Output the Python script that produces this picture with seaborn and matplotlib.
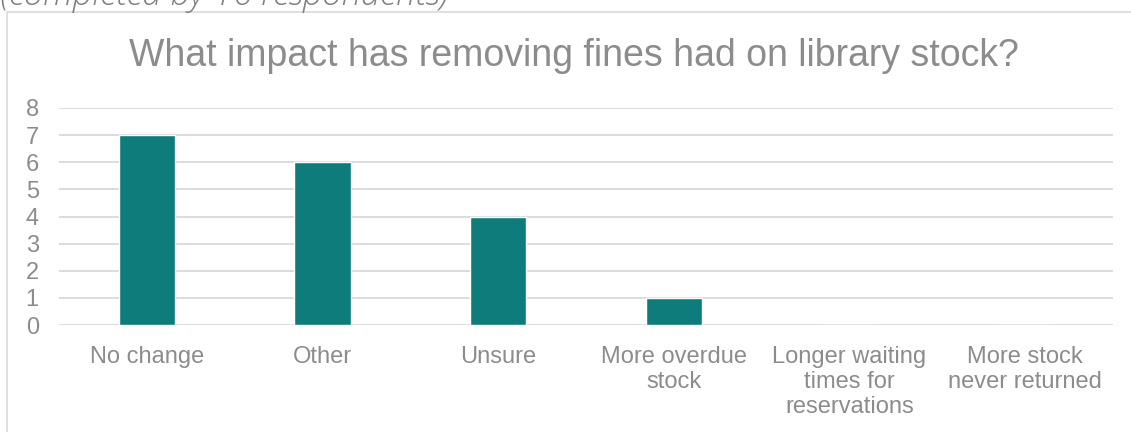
import matplotlib
matplotlib.use("Agg")
import matplotlib.pyplot as plt
import seaborn as sns
import pandas as pd
from matplotlib.patches import Rectangle

categories = ["No change", "Other", "Unsure", "More overdue\nstock",
              "Longer waiting\ntimes for\nreservations", "More stock\nnever returned"]
values = [7, 6, 4, 1, 0, 0]
yticks = [0, 1, 2, 3, 4, 5, 6, 7, 8]

sns.set_theme(style="white")
plt.rcParams['font.family'] = ['Liberation Sans', 'DejaVu Sans']

W, H = 1131, 432
fig = plt.figure(figsize=(W / 100, H / 100), dpi=100)
ax = fig.add_axes([59 / W, 1 - 325 / H, (1113 - 59) / W, (325 - 108) / H])

df = pd.DataFrame({"cat": categories, "val": values})
sns.barplot(data=df, x="cat", y="val", color="#0E7C7B", width=0.32,
            saturation=1, ax=ax)

ax.set_ylim(0, 8)
ax.set_yticks(yticks)
ax.set_xlim(-0.5, len(categories) - 0.5)
ax.yaxis.grid(True, color="#d9d9d9", linewidth=1.3)
ax.set_axisbelow(True)
for s in ax.spines.values():
    s.set_visible(False)
ax.set_xlabel("")
ax.set_ylabel("")
ax.tick_params(axis="both", length=0, labelcolor="#8c8c8c", labelsize=17)
ax.tick_params(axis="y", pad=24)
ax.tick_params(axis="x", pad=15)
for lbl in ax.get_yticklabels():
    lbl.set_horizontalalignment("left")
for lbl in ax.get_xticklabels():
    lbl.set_linespacing(1.17)

fig.text(574 / W, 1 - 56 / H, "What impact has removing fines had on library stock?",
         ha="center", va="center", fontsize=27, color="#8c8c8c")

fig.text(0 / W, 1 - 5 / H, "(completed by 16 respondents)", ha="left",
         va="baseline", fontsize=25, color="#7f7f7f", style="italic",
         family=["Open Sans", "DejaVu Sans"], weight="light")

fig.patches.append(Rectangle((7 / W, -0.1), 1.2, 1 - 12 / H + 0.1,
                             transform=fig.transFigure, fill=False,
                             edgecolor="#d9d9d9", linewidth=1.2, zorder=-1))

fig.savefig("out.png", dpi=100)
